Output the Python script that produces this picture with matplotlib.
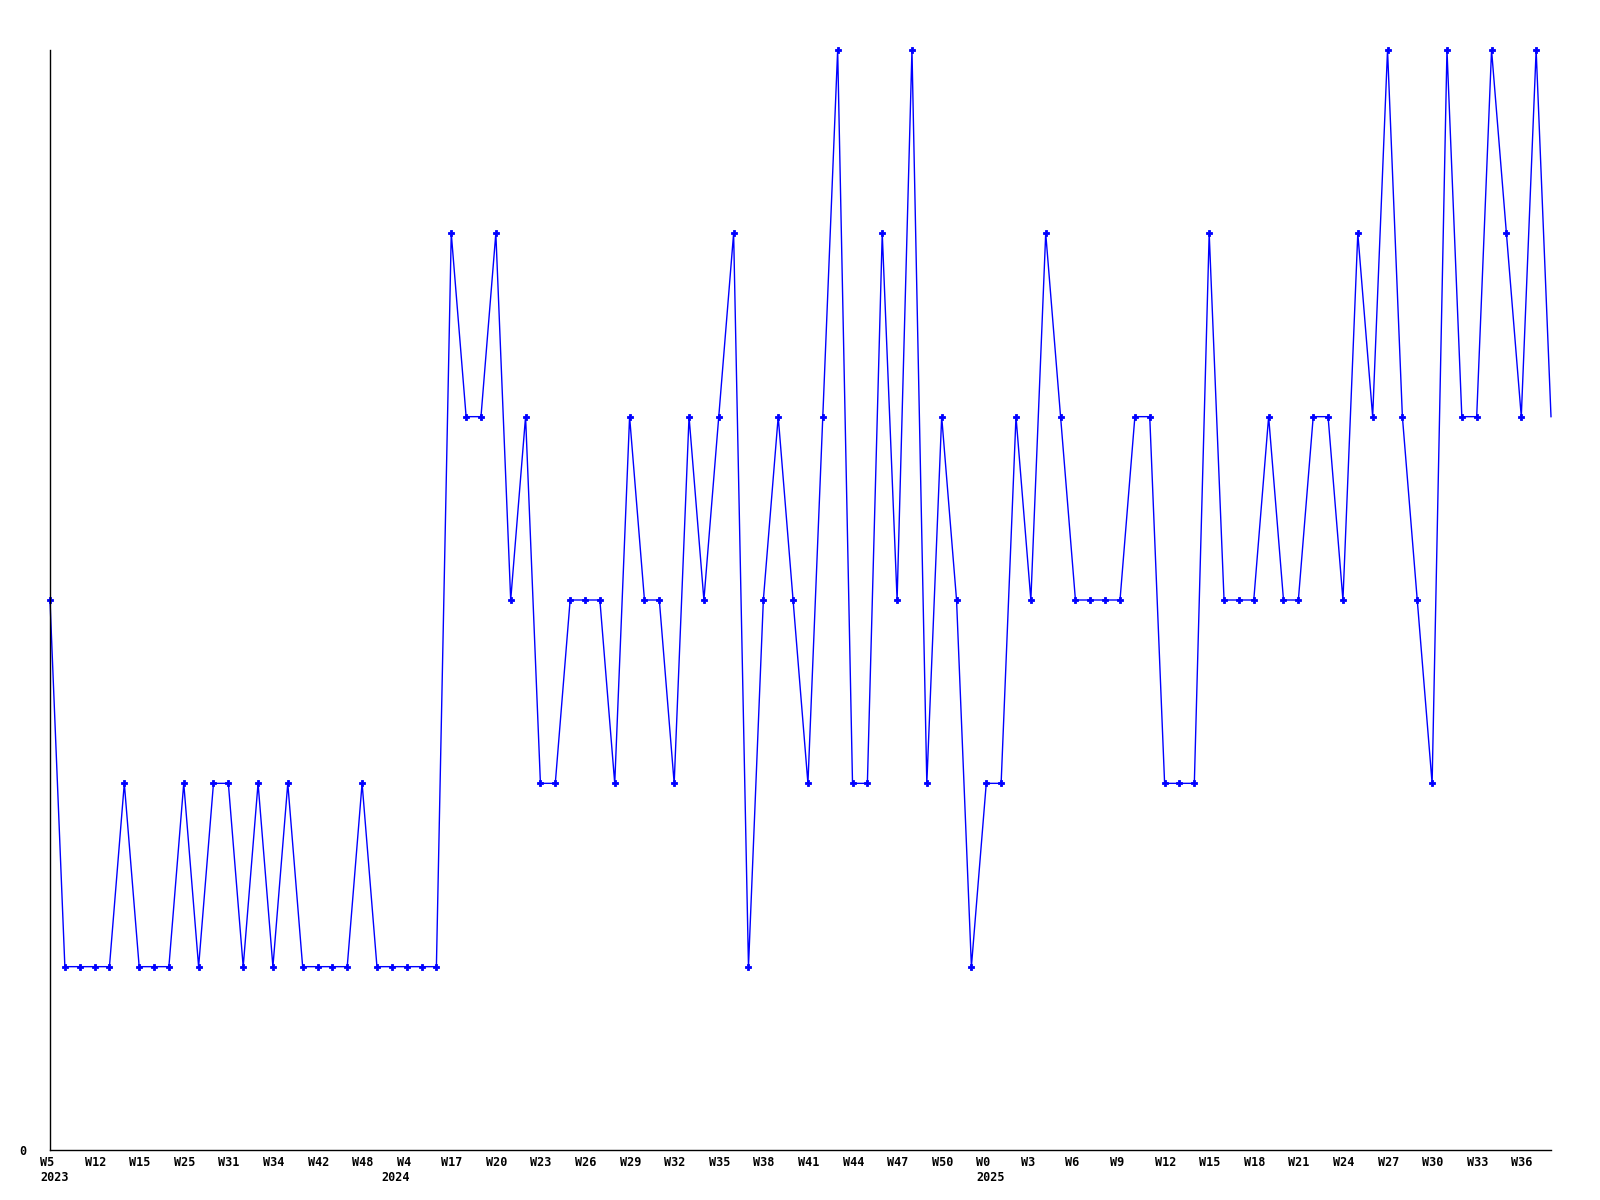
"""Weekly counts line chart (2023 - 2025)."""

import matplotlib
matplotlib.use("Agg")
import matplotlib.pyplot as plt
import matplotlib.transforms as mtransforms

# values per week, in order
counts = [3, 1, 1, 1, 1, 2, 1, 1, 1, 2,
          1, 2, 2, 1, 2, 1, 2, 1, 1, 1,
          1, 2, 1, 1, 1, 1, 1, 5, 4, 4,
          5, 3, 4, 2, 2, 3, 3, 3, 2, 4,
          3, 3, 2, 4, 3, 4, 5, 1, 3, 4,
          3, 2, 4, 6, 2, 2, 5, 3, 6, 2,
          4, 3, 1, 2, 2, 4, 3, 5, 4, 3,
          3, 3, 3, 4, 4, 2, 2, 2, 5, 3,
          3, 3, 4, 3, 3, 4, 4, 3, 5, 4,
          6, 4, 3, 2, 6, 4, 4, 6, 5, 4,
          6, 4]

# one label every third point
week_labels = ['W5', 'W12', 'W15', 'W25', 'W31', 'W34', 'W42', 'W48', 'W4', 'W17',
               'W20', 'W23', 'W26', 'W29', 'W32', 'W35', 'W38', 'W41', 'W44', 'W47',
               'W50', 'W0', 'W3', 'W6', 'W9', 'W12', 'W15', 'W18', 'W21', 'W24',
               'W27', 'W30', 'W33', 'W36']
label_step = 3

# year markers: (point index, text)
year_idx = [0, 24, 63]
year_text = ['2023', '2024', '2025']

x = list(range(len(counts)))

fig = plt.figure(figsize=(16, 12), dpi=100)
ax = fig.add_axes([50 / 1600, 50 / 1200, 1501 / 1600, 1100 / 1200])

# line through all points, markers on all but the last one
ax.plot(x, counts, color='#0000ff', linewidth=1.0, clip_on=False)
ax.plot(x[:-1], counts[:-1], linestyle='none', marker='P', markersize=4,
        color='#0000ff', markeredgewidth=0.6, clip_on=False)

ax.set_xlim(0, len(counts) - 1)
ax.set_ylim(0, 6)

for side in ['top', 'right']:
    ax.spines[side].set_visible(False)
for side in ['left', 'bottom']:
    ax.spines[side].set_linewidth(1.0)
    ax.spines[side].set_color('black')

font = dict(family='DejaVu Sans Mono', weight='bold', size=8.5)

ax.set_yticks([0])
ax.set_yticklabels(['0'], **font)
ax.tick_params(axis='y', length=0, pad=17)

ax.set_xticks(x[::label_step][:len(week_labels)])
ax.set_xticklabels(week_labels, ha='left', **font)
ax.tick_params(axis='x', length=0, pad=4)
shift = mtransforms.ScaledTranslation(-10 / 100, 0, fig.dpi_scale_trans)
for lab in ax.get_xticklabels():
    lab.set_transform(lab.get_transform() + shift)

# year labels under the week labels
trans = mtransforms.blended_transform_factory(ax.transData, ax.transAxes)
for idx, txt in zip(year_idx, year_text):
    dx = -25 if txt == '2024' else -10
    off = mtransforms.ScaledTranslation(dx / 100, -21 / 100, fig.dpi_scale_trans)
    ax.text(idx, 0, txt, transform=trans + off, ha='left', va='top', **font)

fig.savefig('out.png', dpi=100)
